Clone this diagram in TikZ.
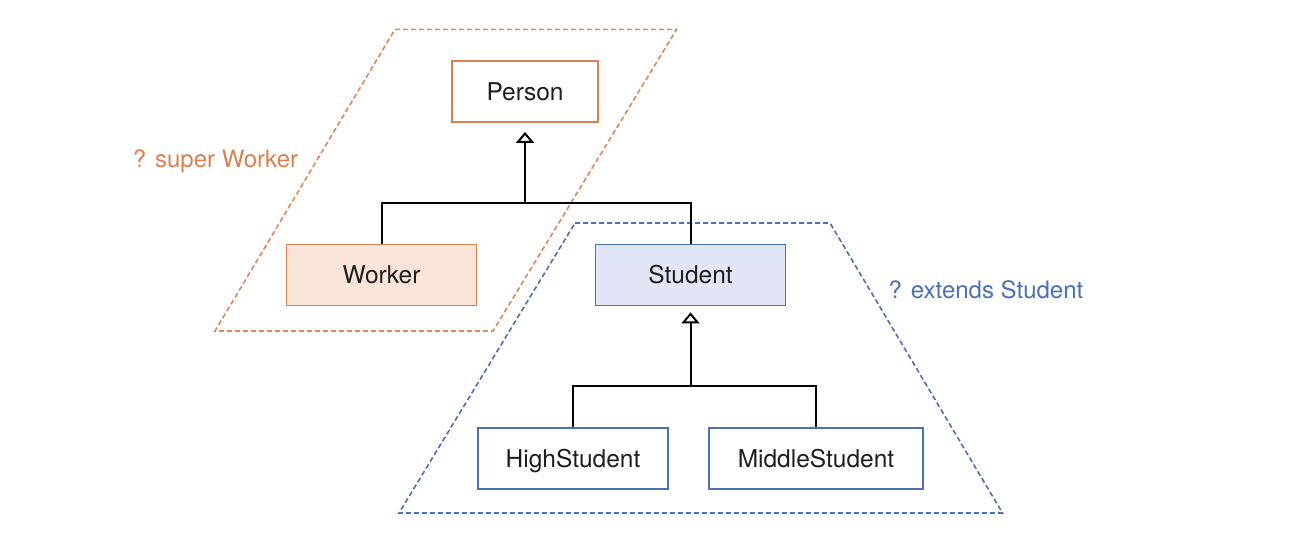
\documentclass[tikz,border=0pt]{standalone}
\usepackage{fontspec}
\setmainfont{TeX Gyre Heros}
\usetikzlibrary{arrows.meta}
\definecolor{orgline}{HTML}{D9804F}
\definecolor{orgdashc}{HTML}{E0875A}
\definecolor{orgfill}{HTML}{F9E5D7}
\definecolor{blueline}{HTML}{4A70B5}
\definecolor{bluefill}{HTML}{E1E5F5}
\definecolor{txt}{HTML}{1E1E1E}
\begin{document}
\begin{tikzpicture}[x=1pt,y=-1pt,
  clsbox/.style={draw, line width=1.8pt, minimum height=61pt, inner sep=0pt,
    text height=17.6pt, text depth=0pt, font=\fontsize{24.5}{29}\selectfont, text=txt},
  orgbox/.style={clsbox, draw=orgline},
  bluebox/.style={clsbox, draw=blueline},
  conn/.style={draw=black, line width=2pt},
  inherit/.style={conn, -{Triangle[open, length=11pt, width=18pt]}},
  regiondash/.style={line width=1.6pt, dash pattern=on 5pt off 3pt},
  lbl/.style={font=\fontsize{24}{29}\selectfont, inner sep=0pt, anchor=base}]
\useasboundingbox (0,0) rectangle (1298,550);
\fill[white] (0,0) rectangle (1298,550);

% dashed regions
\draw[regiondash, draw=orgdashc] (395,29.3) -- (676.7,29.3) -- (493,331) -- (215,331) -- cycle;
\draw[regiondash, draw=blueline] (575,223) -- (830,223) -- (1002.5,513) -- (399,513) -- cycle;

% classes
\node[orgbox, minimum width=146pt] (person) at (525,91.5) {Person};
\node[orgbox, fill=orgfill, minimum width=190pt] (worker) at (381.5,275) {Worker};
\node[bluebox, fill=bluefill, minimum width=190pt] (student) at (690.5,275) {Student};
\node[bluebox, minimum width=190pt] (high) at (573,458.5) {HighStudent};
\node[bluebox, minimum width=214pt] (middle) at (816,458.5) {MiddleStudent};

% junctions
\coordinate (j1) at (525,203);
\coordinate (j2) at (690.5,386);

% connectors
\draw[conn] (worker.north) |- (j1) -| (student.north);
\draw[inherit, shorten >=9pt] (j1) -- (person.south);
\draw[conn] (high.north) |- (j2) -| (middle.north);
\draw[inherit, shorten >=6pt] (j2) -- (student.south);

% labels
\node[lbl, text=orgline] (superlbl) at (215.5,167) {? super Worker};
\node[lbl, text=blueline] (extlbl) at (986,298.5) {? extends Student};
\end{tikzpicture}
\end{document}
